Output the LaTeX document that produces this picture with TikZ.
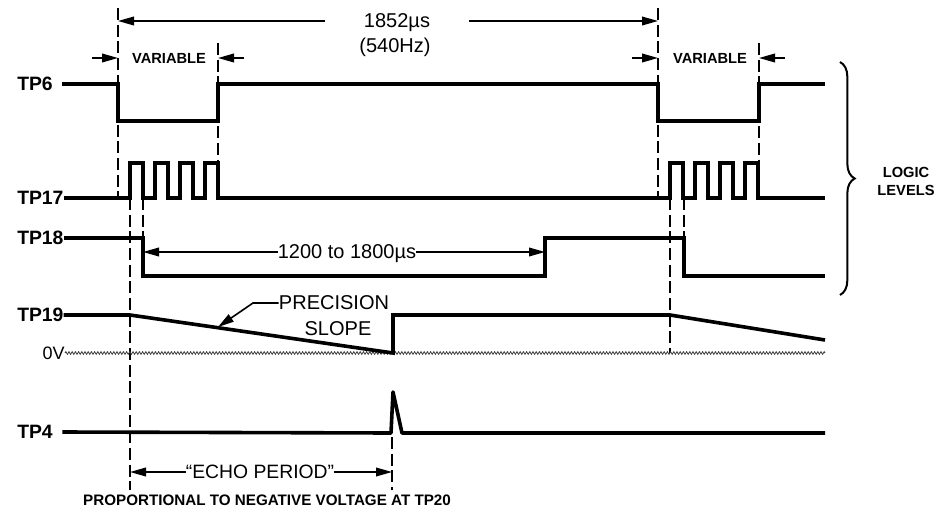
\documentclass[tikz,border=0pt]{standalone}
\usepackage{fontspec}
\setmainfont{Liberation Sans}
\usetikzlibrary{arrows.meta,decorations.pathreplacing,decorations.pathmorphing}

\begin{document}
\begin{tikzpicture}[x=0.75pt,y=-0.75pt,
    signal/.style={line width=2.7pt},
    guide/.style={line width=1.4pt, dash pattern=on 9pt off 3.5pt},
    dim/.style={line width=1.2pt, -{Triangle[length=12pt,width=6.5pt]}},
    zeroline/.style={line width=0.6pt, black!75, decorate,
        decoration={zigzag, segment length=2.4pt, amplitude=1pt}},
    tplabel/.style={font=\bfseries\fontsize{14.5}{16}\selectfont, inner sep=0pt, anchor=west},
    txt/.style={font=\fontsize{15}{17}\selectfont, inner sep=0pt, text depth=0pt},
    small/.style={font=\bfseries\fontsize{11}{13.5}\selectfont, inner sep=0pt}]
    \useasboundingbox (0,0) rectangle (937,513);

    % Dashed timing guides
    \foreach \x/\a/\b in {118/8/200, 130/198/490, 143/198/240, 218/43/200,
                          658/8/200, 670/198/353, 684/198/240, 759/43/200, 392/437/490}
        \draw[guide] (\x,\a) -- (\x,\b);

    % Signal labels
    \node[tplabel] (tp6) at (17,84) {TP6};
    \node[tplabel] (tp17) at (17,198) {TP17};
    \node[tplabel] (tp18) at (17,238) {TP18};
    \node[tplabel] (tp19) at (17,315) {TP19};
    \node[font=\fontsize{13.5}{15}\selectfont, inner sep=0pt, anchor=east] (zero) at (65,353) {0V};
    \node[tplabel] (tp4) at (17,432) {TP4};

    % TP6
    \draw[signal] ([xshift=7pt]tp6.east) -- (118,84) -- (118,121) -- (218,121) -- (218,84)
        -- (658,84) -- (658,121) -- (759,121) -- (759,84) -- (825,84);

    % TP17: two bursts of four pulses
    \draw[signal] (tp17.east) -- (130,198)
        \foreach \r in {130,155,180,205} {-- (\r,198) -- (\r,163) -- ({\r+13},163) -- ({\r+13},198)}
        -- (670,198)
        \foreach \r in {670,695,720,745} {-- (\r,198) -- (\r,163) -- ({\r+13},163) -- ({\r+13},198)}
        -- (825,198);

    % TP18
    \draw[signal] (tp18.east) -- (143,238) -- (143,276) -- (545,276) -- (545,238)
        -- (684,238) -- (684,276) -- (825,276);

    % TP19 ramp and 0V reference
    \draw[zeroline] (zero.east) -- (825,353);
    \draw[signal] (tp19.east) -- (130,315) -- (393,353) -- (393,315) -- (670,315) -- (825,340);

    % TP4 spike
    \draw[signal, line join=round] ([xshift=7pt]tp4.east) -- (391,433) -- (393,392) -- (402,433) -- (825,433);

    % Period 1852us
    \node[txt, inner xsep=29pt] (period) at (397,21) {1852µs};
    \node[txt] (freq) at (395,45) {(540Hz)};
    \coordinate (p0) at (118,21);
    \coordinate (p1) at (658,21);
    \draw[dim] (period.west) -- (p0);
    \draw[dim] (period.east) -- (p1);

    % Variable widths
    \node[small] (var1) at (169,58) {VARIABLE};
    \node[small] (var2) at (710,58) {VARIABLE};
    \coordinate (v0) at (118,58);
    \coordinate (v1) at (218,58);
    \coordinate (v2) at (658,58);
    \coordinate (v3) at (759,58);
    \coordinate (v0o) at (92,58);
    \coordinate (v1o) at (244,58);
    \coordinate (v2o) at (632,58);
    \coordinate (v3o) at (785,58);
    \draw[dim] (v0o) -- (v0);
    \draw[dim] (v1o) -- (v1);
    \draw[dim] (v2o) -- (v2);
    \draw[dim] (v3o) -- (v3);

    % Logic levels brace
    \coordinate (b0) at (840,62);
    \coordinate (b1) at (840,295);
    \draw[line width=1.5pt, decorate, decoration={brace, amplitude=11pt}] (b0) -- (b1);
    \node[small, align=center] (logic) at (906,181) {LOGIC\\LEVELS};

    % 1200 to 1800us
    \node[txt] (span) at (347,252) {1200 to 1800µs};
    \coordinate (s0) at (143,252);
    \coordinate (s1) at (545,252);
    \draw[dim] (span.west) -- (s0);
    \draw[dim] (span.east) -- (s1);

    % Precision slope callout
    \node[txt] (prec) at (334,303) {PRECISION};
    \node[txt] (slope) at (338,329) {SLOPE};
    \coordinate (kink) at (253,303);
    \coordinate (ramp) at (218,327);
    \draw[dim] (prec.west) -- (kink) -- (ramp);

    % Echo period
    \node[txt, font=\fontsize{14.5}{16}\selectfont] (echo) at (260,472) {“ECHO PERIOD”};
    \coordinate (e0) at (130,472);
    \coordinate (e1) at (392,472);
    \draw[dim] (echo.west) -- (e0);
    \draw[dim] (echo.east) -- (e1);
    \node[font=\bfseries\fontsize{11.4}{13}\selectfont, inner sep=0pt] (note) at (267,500)
        {PROPORTIONAL TO NEGATIVE VOLTAGE AT TP20};
\end{tikzpicture}
\end{document}
